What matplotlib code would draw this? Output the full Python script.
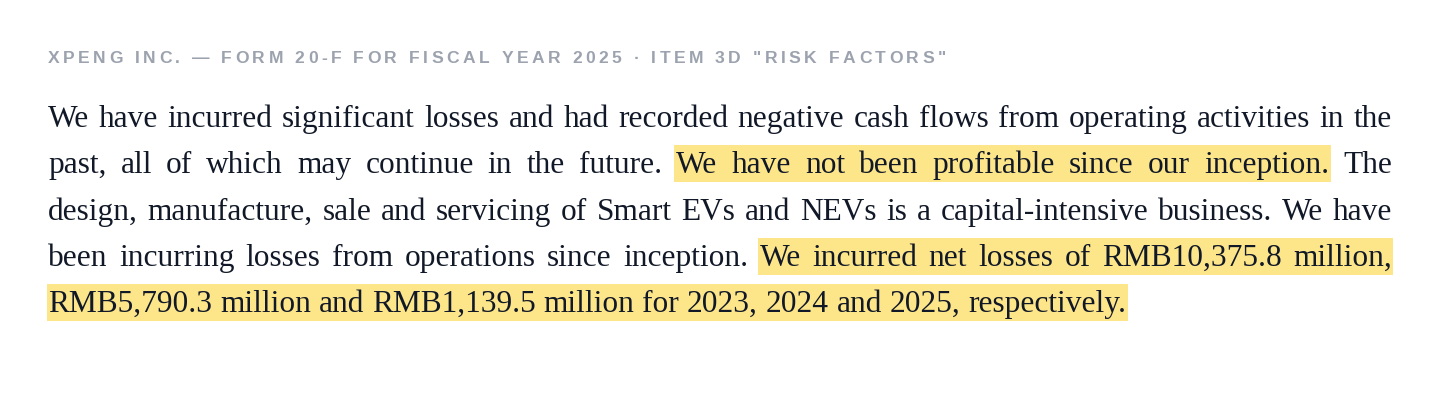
"""Justified risk-factor excerpt with highlighted sentences."""

import matplotlib

matplotlib.use("Agg")
import matplotlib.pyplot as plt
from matplotlib.patches import Rectangle

HEADER = 'XPENG INC. \u2014 FORM 20-F FOR FISCAL YEAR 2025 \u00b7 ITEM 3D "RISK FACTORS"'

# body text as it wraps in the reference, one entry per line
LINES = [
    "We have incurred significant losses and had recorded negative cash flows from operating activities in the",
    "past, all of which may continue in the future. We have not been profitable since our inception. The",
    "design, manufacture, sale and servicing of Smart EVs and NEVs is a capital-intensive business. We have",
    "been incurring losses from operations since inception. We incurred net losses of RMB10,375.8 million,",
    "RMB5,790.3 million and RMB1,139.5 million for 2023, 2024 and 2025, respectively.",
]

# highlighted word ranges per line: (first word index, last word index), None if none
HIGHLIGHTS = [
    None,
    (9, 16),
    None,
    (7, 13),
    (0, 10),
]

TEXT_COLOR = "#111827"
HEADER_COLOR = "#9ca3af"
MARK_COLOR = "#fde68a"

W, H = 1440, 420
LEFT, RIGHT = 48, 1392
HEADER_RIGHT = 946
HEADER_BASE = 63
FIRST_BASE = 127
LINE_STEP = 46.3

fig = plt.figure(figsize=(W / 100, H / 100), dpi=100)
ax = fig.add_axes([0, 0, 1, 1])
ax.set_xlim(0, W)
ax.set_ylim(H, 0)
ax.axis("off")
renderer = fig.canvas.get_renderer()


def text_width(s, **kw):
    t = ax.text(0, 0, s, **kw)
    w = t.get_window_extent(renderer).width
    t.remove()
    return w


serif = dict(family="Liberation Serif", fontsize=22.6)
space_w = text_width("x x", **serif) - text_width("xx", **serif)

for i, line in enumerate(LINES):
    words = line.split(" ")
    widths = [text_width(w, **serif) for w in words]
    base = FIRST_BASE + i * LINE_STEP
    last = i == len(LINES) - 1
    gap = space_w if last else (RIGHT - LEFT - sum(widths)) / (len(words) - 1)
    xs = []
    x = LEFT
    for w in widths:
        xs.append(x)
        x += w + gap
    hl = HIGHLIGHTS[i]
    if hl:
        a, b = hl
        x0 = xs[a] - 1.5
        x1 = xs[b] + widths[b] + 1.5
        ax.add_patch(Rectangle((x0, base - 28), x1 - x0, 37,
                               facecolor=MARK_COLOR, edgecolor="none", zorder=1))
    for x, word in zip(xs, words):
        ax.text(x, base, word, color=TEXT_COLOR, ha="left", va="baseline",
                zorder=2, **serif)

# letter-spaced header
sans = dict(family="Liberation Sans", fontsize=12.6, fontweight="bold")
sans_space = text_width("x x", **sans) - text_width("xx", **sans)
char_w = [text_width(c, **sans) if c != " " else sans_space for c in HEADER]
track = (HEADER_RIGHT - LEFT - sum(char_w)) / (len(HEADER) - 1)
x = LEFT
for c, cw in zip(HEADER, char_w):
    if c != " ":
        ax.text(x, HEADER_BASE, c, color=HEADER_COLOR, ha="left", va="baseline", **sans)
    x += cw + track

fig.savefig("out.png", dpi=100, facecolor="white")
plt.close(fig)
